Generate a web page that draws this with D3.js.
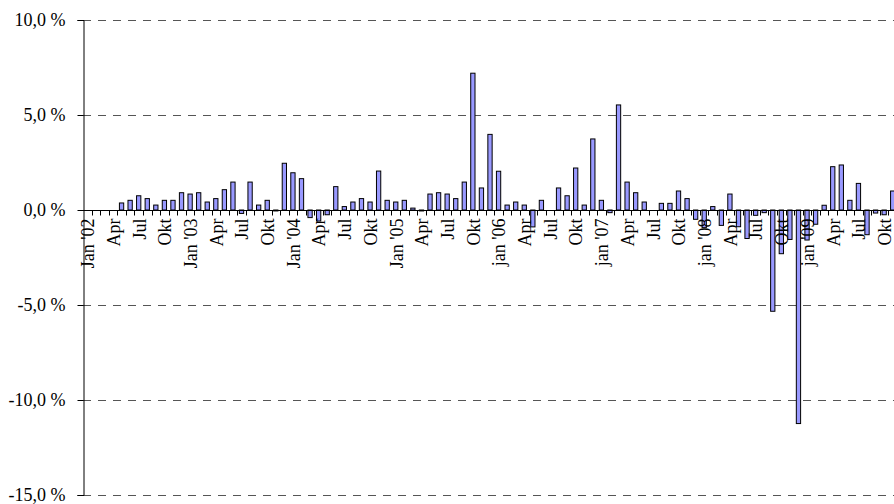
<!DOCTYPE html>
<html>
<head>
<meta charset="utf-8">
<script src="https://cdn.jsdelivr.net/npm/d3@7"></script>
<style>
  html, body { margin: 0; padding: 0; background: #fff; }
  svg text { font-family: "Liberation Serif", "Times New Roman", serif; fill: #000; }
</style>
</head>
<body>
<svg id="chart" width="894" height="504"></svg>
<script>
// ---- data ----
const years = ["02", "03", "04", "05", "06", "07", "08", "09"];
const monthNames = ["Jan","Feb","Mär","Apr","Mai","Jun","Jul","Aug","Sep","Okt","Nov","Dez"];
// monthly change in % (Jan '02 .. Nov '09)
const values = [
  0, 0, 0, 0, 0.37, 0.51, 0.75, 0.60, 0.26, 0.51, 0.51, 0.91,
  0.84, 0.91, 0.42, 0.60, 1.07, 1.47, -0.18, 1.47, 0.26, 0.51, -0.05, 2.46,
  1.96, 1.65, -0.40, -0.58, -0.25, 1.23, 0.18, 0.42, 0.60, 0.42, 2.05, 0.51,
  0.42, 0.51, 0.10, -0.05, 0.84, 0.91, 0.84, 0.60, 1.47, 7.20, 1.16, 3.98,
  2.04, 0.26, 0.42, 0.26, -0.89, 0.51, 0, 1.16, 0.75, 2.21, 0.26, 3.74,
  0.51, -0.14, 5.53, 1.47, 0.91, 0.42, 0, 0.35, 0.35, 1.00, 0.60, -0.49,
  -0.93, 0.18, -0.81, 0.84, -0.88, -1.50, -0.28, -0.14, -5.33, -2.30, -1.55, -11.24,
  -1.58, -0.75, 0.25, 2.28, 2.37, 0.51, 1.40, -1.30, -0.16, -0.25, 1.00
];
const tickLabels = [
  "Jan '02","Apr","Jul","Okt","Jan '03","Apr","Jul","Okt",
  "Jan '04","Apr","Jul","Okt","Jan '05","Apr","Jul","Okt",
  "jan '06","Apr","Jul","Okt","jan '07","Apr","Jul","Okt",
  "jan '08","Apr","Jul","Okt","jan '09","Apr","Jul","Okt"
];
const yTicks = [10, 5, 0, -5, -10, -15];

(function () {
// category keys (one per month)
const categories = [];
years.forEach(yy => monthNames.forEach(m => categories.push(m + " '" + yy)));
const cats = categories.slice(0, values.length);
const data = cats.map((c, i) => ({ cat: c, v: values[i] }));
const labelCats = cats.filter((c, i) => i % 3 === 0);

// ---- layout ----
const svg = d3.select("#chart");
const mLeft = 83, mRight = 897, mTop = 20, mBottom = 495;

const x = d3.scaleBand().domain(cats).range([mLeft, mRight]).padding(0);
const y = d3.scaleLinear().domain([-15, 10]).range([mBottom, mTop]);

const loc = d3.formatLocale({ decimal: ",", thousands: ".", grouping: [3], currency: ["", " €"], minus: "-" });
const fmt = v => loc.format(".1f")(v) + " %";

// gridlines (dashed)
svg.append("g").selectAll("line").data(yTicks.filter(t => t !== 0)).join("line")
  .attr("x1", mLeft).attr("x2", 894)
  .attr("y1", d => Math.round(y(d)) + 0.5).attr("y2", d => Math.round(y(d)) + 0.5)
  .attr("stroke", "#555").attr("stroke-width", 1.2)
  .attr("stroke-dasharray", "8,7");

// bars
const bw = x.bandwidth() * 0.5;
svg.append("g").selectAll("rect").data(data.filter(d => d.v !== 0)).join("rect")
  .attr("x", d => x(d.cat) + (x.bandwidth() - bw) / 2)
  .attr("y", d => Math.min(y(d.v), y(0)))
  .attr("width", bw)
  .attr("height", d => Math.abs(y(d.v) - y(0)))
  .attr("fill", "#9999FF")
  .attr("stroke", "#000").attr("stroke-width", 1);

// y axis
const yAxis = d3.axisLeft(y).tickValues(yTicks).tickSize(6).tickPadding(12).tickFormat(fmt);
const gy = svg.append("g").attr("transform", `translate(${mLeft + 0.5},0)`).call(yAxis);
gy.select(".domain").attr("stroke", "#000");
gy.selectAll("line").attr("stroke", "#000");
gy.selectAll("text").style("font-size", "18px").style("font-family", "'Liberation Serif', serif");

// zero axis line with monthly tick marks
const y0 = Math.round(y(0)) + 0.5;
svg.append("line").attr("x1", mLeft).attr("x2", 894).attr("y1", y0).attr("y2", y0)
  .attr("stroke", "#000").attr("stroke-width", 1);
svg.append("g").selectAll("line").data(cats).join("line")
  .attr("x1", d => Math.round(x(d) + x.bandwidth()) + 0.5)
  .attr("x2", d => Math.round(x(d) + x.bandwidth()) + 0.5)
  .attr("y1", y0).attr("y2", y0 + 5)
  .attr("stroke", "#000");

// x labels
svg.append("g").selectAll("text").data(labelCats).join("text")
  .attr("transform", d => `translate(${x(d) + x.bandwidth() / 2 + 0.5},${y0 + 8}) rotate(-90)`)
  .attr("text-anchor", "end")
  .attr("dy", "0.35em")
  .style("font-size", "18px")
  .text((d, i) => tickLabels[i]);
})();
</script>
</body>
</html>
